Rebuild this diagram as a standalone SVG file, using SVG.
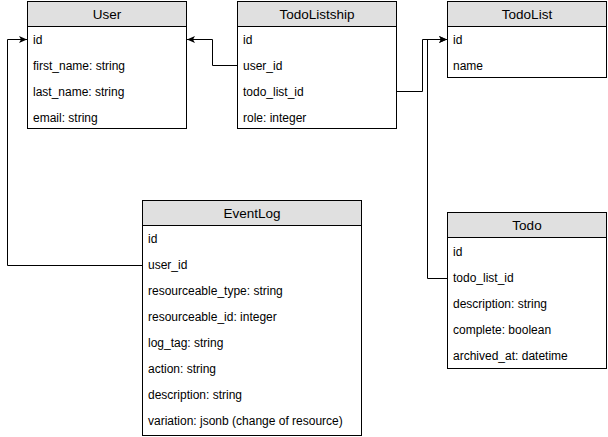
<svg xmlns="http://www.w3.org/2000/svg" width="608" height="437" viewBox="0 0 608 437">
  <defs>
    <style>
      .body { fill: #ffffff; stroke: #000000; stroke-width: 1; }
      .head { fill: #e0e0e0; stroke: #000000; stroke-width: 1; }
      .title { font-family: "Liberation Sans", Arial, sans-serif; font-size: 13.5px; fill: #000000; text-anchor: middle; }
      .field { font-family: "Liberation Sans", Arial, sans-serif; font-size: 12px; fill: #000000; }
      .link { fill: none; stroke: #000000; stroke-width: 1; }
    </style>
    <marker id="arrow" viewBox="0 0 8 8" refX="8" refY="4" markerWidth="8" markerHeight="8" markerUnits="userSpaceOnUse" orient="auto">
      <path d="M0,0.5 L8,4 L0,7.5 L2,4 Z" fill="#000000"/>
    </marker>
  </defs>

  <rect width="608" height="437" fill="#ffffff"/>

  <!-- relations -->
  <g id="connectors">
    <path class="link" d="M142,265.5 H7.5 V39.5 H27" marker-end="url(#arrow)"/>
    <path class="link" d="M237,65.5 H212.5 V39.5 H187" marker-end="url(#arrow)"/>
    <path class="link" d="M397,91.5 H422.5 V39.5 H447" marker-end="url(#arrow)"/>
    <path class="link" d="M447,278.5 H427.5 V39.5 H447" marker-end="url(#arrow)"/>
  </g>

  <g id="user">
    <rect class="body" x="27.5" y="1.5" width="159" height="127"/>
    <rect class="head" x="27.5" y="1.5" width="159" height="25"/>
    <text class="title" x="107" y="19">User</text>
    <text class="field" x="33" y="44">id</text>
    <text class="field" x="33" y="70">first_name: string</text>
    <text class="field" x="33" y="96">last_name: string</text>
    <text class="field" x="33" y="122">email: string</text>
  </g>

  <g id="todolistship">
    <rect class="body" x="237.5" y="1.5" width="159" height="127"/>
    <rect class="head" x="237.5" y="1.5" width="159" height="25"/>
    <text class="title" x="317" y="19">TodoListship</text>
    <text class="field" x="243" y="44">id</text>
    <text class="field" x="243" y="70">user_id</text>
    <text class="field" x="243" y="96">todo_list_id</text>
    <text class="field" x="243" y="122">role: integer</text>
  </g>

  <g id="todolist">
    <rect class="body" x="447.5" y="1.5" width="159" height="76"/>
    <rect class="head" x="447.5" y="1.5" width="159" height="25"/>
    <text class="title" x="527" y="19">TodoList</text>
    <text class="field" x="453" y="44">id</text>
    <text class="field" x="453" y="70">name</text>
  </g>

  <g id="eventlog">
    <rect class="body" x="142.5" y="200.5" width="219" height="235"/>
    <rect class="head" x="142.5" y="200.5" width="219" height="25"/>
    <text class="title" x="252" y="218">EventLog</text>
    <text class="field" x="148" y="243">id</text>
    <text class="field" x="148" y="269">user_id</text>
    <text class="field" x="148" y="295">resourceable_type: string</text>
    <text class="field" x="148" y="321">resourceable_id: integer</text>
    <text class="field" x="148" y="347">log_tag: string</text>
    <text class="field" x="148" y="373">action: string</text>
    <text class="field" x="148" y="399">description: string</text>
    <text class="field" x="148" y="425">variation: jsonb (change of resource)</text>
  </g>

  <g id="todo">
    <rect class="body" x="447.5" y="212.5" width="159" height="156"/>
    <rect class="head" x="447.5" y="212.5" width="159" height="25"/>
    <text class="title" x="527" y="230">Todo</text>
    <text class="field" x="453" y="256">id</text>
    <text class="field" x="453" y="282">todo_list_id</text>
    <text class="field" x="453" y="308">description: string</text>
    <text class="field" x="453" y="334">complete: boolean</text>
    <text class="field" x="453" y="360">archived_at: datetime</text>
  </g>
</svg>
